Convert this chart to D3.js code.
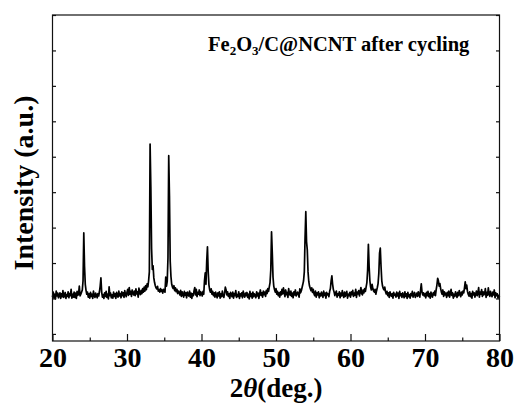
<!DOCTYPE html>
<html>
<head>
<meta charset="utf-8">
<script src="https://cdn.jsdelivr.net/npm/d3@7"></script>
<style>
  html, body { margin: 0; padding: 0; background: #fff; }
</style>
</head>
<body>
<svg id="chart" width="519" height="412"></svg>
<script>
// XRD pattern of Fe2O3/C@NCNT after cycling, 2θ from 20° to 80° in 0.1° steps
const angleStart = 20;
const angleStep = 0.1;
const intensity = [
  // 20°
  104,118,101,112,99,121,107,115,102,110,
  // 21°
  116,100,113,105,122,103,109,117,100,111,
  // 22°
  106,119,102,114,108,126,101,112,104,118,
  // 23°
  103,115,100,120,109,113,135,107,112,118,
  // 24°
  124,150,285,190,140,123,112,118,104,113,
  // 25°
  101,117,106,112,100,121,108,103,115,109,
  // 26°
  102,114,107,119,135,158,118,104,111,100,
  // 27°
  116,106,120,103,112,99,133,108,115,102,
  // 28°
  110,101,118,106,113,100,117,109,104,121,
  // 29°
  107,114,102,119,108,116,103,122,111,105,
  // 30°
  118,126,109,131,112,120,106,124,115,110,
  // 31°
  121,108,127,113,119,104,129,116,111,123,
  // 32°
  114,128,118,132,121,136,125,141,133,150,
  // 33°
  175,536,415,240,182,192,158,145,136,130,
  // 34°
  127,134,121,125,118,128,120,124,115,126,
  // 35°
  124,118,160,135,148,215,503,390,205,162,
  // 36°
  140,132,128,136,122,130,119,126,114,121,
  // 37°
  117,110,123,106,119,112,104,120,109,116,
  // 38°
  102,118,111,107,121,104,115,100,113,108,
  // 39°
  122,131,110,126,105,117,112,124,108,119,
  // 40°
  114,107,120,112,150,172,140,205,246,175,
  // 41°
  138,124,118,127,112,120,108,116,104,118,
  // 42°
  110,102,116,107,119,101,113,105,121,108,
  // 43°
  103,115,132,124,110,119,106,113,100,117,
  // 44°
  112,105,118,101,114,108,122,103,111,106,
  // 45°
  119,100,113,107,116,102,121,109,104,115,
  // 46°
  108,117,103,112,99,120,106,114,101,118,
  // 47°
  105,113,110,102,119,107,115,100,112,124,
  // 48°
  109,116,104,121,111,118,106,123,114,128,
  // 49°
  120,133,145,180,288,230,160,135,125,118,
  // 50°
  128,112,120,108,116,104,119,110,126,113,
  // 51°
  130,118,105,124,111,117,103,128,114,109,
  // 52°
  121,106,115,102,119,110,124,107,113,118,
  // 53°
  111,104,127,116,122,131,140,150,175,270,
  // 54°
  345,260,237,175,148,135,128,122,130,117,
  // 55°
  126,113,108,121,104,116,110,119,102,114,
  // 56°
  107,118,112,103,121,109,115,101,117,110,
  // 57°
  113,105,120,128,150,164,140,125,118,108,
  // 58°
  116,121,104,113,109,119,102,115,107,122,
  // 59°
  110,103,118,106,114,120,101,112,108,117,
  // 60°
  104,119,111,123,106,115,109,126,103,118,
  // 61°
  113,122,107,119,131,114,110,124,116,128,
  // 62°
  120,133,145,180,253,190,150,132,124,140,
  // 63°
  128,121,118,126,112,122,131,142,170,228,
  // 64°
  242,190,150,135,128,124,132,119,113,120,
  // 65°
  108,116,103,119,110,106,114,101,117,109,
  // 66°
  112,104,118,107,115,100,120,108,113,103,
  // 67°
  116,109,102,119,106,113,100,117,105,111,
  // 68°
  101,114,108,120,104,112,117,103,109,115,
  // 69°
  106,119,111,104,122,141,118,110,116,107,
  // 70°
  113,102,117,108,120,105,114,101,118,109,
  // 71°
  104,116,110,121,108,125,138,157,150,135,
  // 72°
  142,128,118,112,124,106,119,110,115,103,
  // 73°
  117,108,121,104,113,126,109,116,101,112,
  // 74°
  106,119,111,103,117,108,122,113,105,118,
  // 75°
  110,121,116,130,147,128,138,120,112,107,
  // 76°
  119,105,114,101,120,110,116,104,112,121,
  // 77°
  108,115,131,104,118,112,125,106,119,110,
  // 78°
  114,128,103,117,109,130,113,106,120,111,
  // 79°
  105,118,110,124,102,116,108,113,101,109,
  // 80°
  104
];

const xMajorTicks = [20, 30, 40, 50, 60, 70, 80];
const xMinorTicks = [25, 35, 45, 55, 65, 75];
const yTicks = [0, 100, 200, 300, 400, 500, 600, 700, 800, 900];

const yTitle = "Intensity (a.u.)";
const sampleParts = ["Fe", "2", "O", "3", "/C@NCNT after cycling"];

const FONT = "'Liberation Serif', 'Times New Roman', Tinos, 'DejaVu Serif', serif";

const svg = d3.select("#chart");
const plot = { left: 52.5, right: 499.5, top: 15, bottom: 341 };

const x = d3.scaleLinear().domain([20, 80]).range([plot.left, plot.right]);
const y = d3.scaleLinear().domain([-20, 900]).range([plot.bottom, plot.top]);

const points = intensity.map((v, i) => [angleStart + i * angleStep, v]);

// pattern trace
svg.append("path")
  .datum(points)
  .attr("fill", "none")
  .attr("stroke", "#000")
  .attr("stroke-width", 1.7)
  .attr("stroke-linejoin", "round")
  .attr("d", d3.line().x(d => x(d[0])).y(d => y(d[1])));

// frame
svg.append("rect")
  .attr("x", plot.left).attr("y", plot.top)
  .attr("width", plot.right - plot.left).attr("height", plot.bottom - plot.top)
  .attr("fill", "none").attr("stroke", "#111").attr("stroke-width", 1.2);

// bottom axis: inward ticks, major + minor
const gx = svg.append("g").attr("transform", `translate(0,${plot.bottom})`)
  .call(d3.axisBottom(x).tickValues(xMajorTicks).tickSizeInner(-7).tickSizeOuter(0));
gx.select(".domain").remove();
gx.selectAll("line").attr("stroke", "#111").attr("stroke-width", 1.2);
gx.selectAll("text")
  .attr("font-family", FONT).attr("font-weight", "bold").attr("fill", "#000")
  .attr("font-size", 28).attr("dy", null).attr("y", 26);

const gxm = svg.append("g").attr("transform", `translate(0,${plot.bottom})`)
  .call(d3.axisBottom(x).tickValues(xMinorTicks).tickSizeInner(-3.5).tickSizeOuter(0).tickFormat(""));
gxm.select(".domain").remove();
gxm.selectAll("line").attr("stroke", "#111").attr("stroke-width", 1.2);

// left and right axes: short inward ticks, no labels
const gyl = svg.append("g").attr("transform", `translate(${plot.left},0)`)
  .call(d3.axisLeft(y).tickValues(yTicks).tickSizeInner(-3.5).tickSizeOuter(0).tickFormat(""));
gyl.select(".domain").remove();
gyl.selectAll("line").attr("stroke", "#111").attr("stroke-width", 1.2);

const gyr = svg.append("g").attr("transform", `translate(${plot.right},0)`)
  .call(d3.axisRight(y).tickValues(yTicks).tickSizeInner(-3.5).tickSizeOuter(0).tickFormat(""));
gyr.select(".domain").remove();
gyr.selectAll("line").attr("stroke", "#111").attr("stroke-width", 1.2);

// x-axis title: 2θ(deg.)
const xt = svg.append("text").attr("x", 276).attr("y", 397)
  .attr("font-family", FONT).attr("font-weight", "bold")
  .attr("text-anchor", "middle").attr("font-size", 27);
xt.append("tspan").text("2");
xt.append("tspan").attr("font-style", "italic").text("θ");
xt.append("tspan").text("(deg.)");

// y-axis title
svg.append("text")
  .attr("transform", "translate(33,183) rotate(-90)")
  .attr("font-family", FONT).attr("font-weight", "bold")
  .attr("text-anchor", "middle").attr("font-size", 28)
  .text(yTitle);

// sample label with subscripts
const lab = svg.append("text").attr("x", 208).attr("y", 51)
  .attr("font-family", FONT).attr("font-weight", "bold").attr("font-size", 20.5);
lab.append("tspan").text(sampleParts[0]);
lab.append("tspan").attr("font-size", 13).attr("dy", 4).text(sampleParts[1]);
lab.append("tspan").attr("dy", -4).text(sampleParts[2]);
lab.append("tspan").attr("font-size", 13).attr("dy", 4).text(sampleParts[3]);
lab.append("tspan").attr("dy", -4).text(sampleParts[4]);
</script>
</body>
</html>
